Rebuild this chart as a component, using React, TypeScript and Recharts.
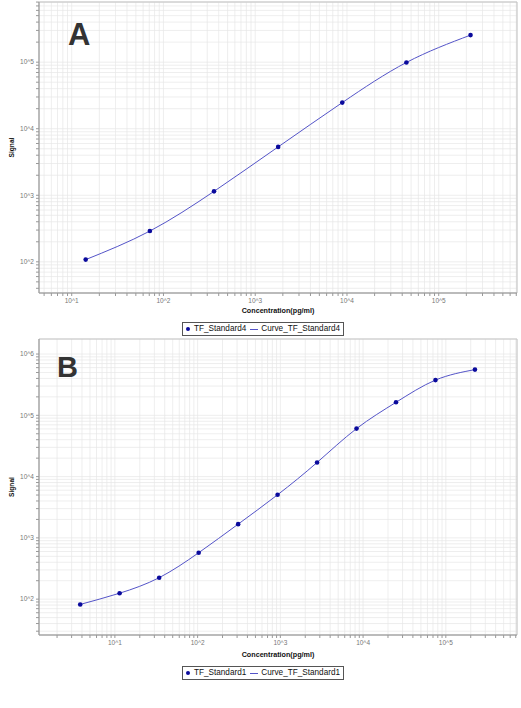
import {
  ComposedChart,
  Line,
  Scatter,
  XAxis,
  YAxis,
  CartesianGrid,
  Legend,
  ReferenceArea
} from 'recharts';

// Panel A: TF_Standard4 (5-fold dilutions)
const concA = [14.2, 71.1, 355.6, 1778, 8889, 44444, 222222];
const signalA = [108, 290, 1146, 5330, 24700, 99000, 255000];

// Panel B: TF_Standard1 (3-fold dilutions)
const concB = [3.81, 11.4, 34.3, 103, 309, 926, 2778, 8333, 25000, 75000, 225000];
const signalB = [82, 125, 224, 572, 1675, 5050, 17000, 60700, 163000, 376000, 557000];

const xMajorA = [10, 100, 1000, 10000, 100000];
const xLabelsA = ['10^1', '10^2', '10^3', '10^4', '10^5'];
const yMajorA = [100, 1000, 10000, 100000];
const yLabelsA = ['10^2', '10^3', '10^4', '10^5'];

const xMajorB = [10, 100, 1000, 10000, 100000];
const xLabelsB = ['10^1', '10^2', '10^3', '10^4', '10^5'];
const yMajorB = [100, 1000, 10000, 100000, 1000000];
const yLabelsB = ['10^2', '10^3', '10^4', '10^5', '10^6'];

const FONT = '"Liberation Sans", Arial, sans-serif';
const DOT = '#0a0a9c';
const CURVE = '#5454c8';

// all 1..9 x 10^k values inside a domain, for grid and minor tick marks
function logTicks(lo: number, hi: number) {
  const out: number[] = [];
  for (let e = -1; e <= 7; e++) {
    for (let m = 1; m <= 9; m++) {
      const v = m * Math.pow(10, e);
      if (v >= lo && v <= hi) out.push(v);
    }
  }
  return out;
}

function labeller(majors: number[], labels: string[]) {
  return (v: number) => {
    const i = majors.findIndex(m => Math.abs(m - v) / m < 1e-6);
    return i >= 0 ? labels[i] : '';
  };
}

function LegendBox({ pointName, curveName }: { pointName: string; curveName: string }) {
  return (
    <div style={{ textAlign: 'center', fontFamily: FONT }}>
      <div
        style={{
          display: 'inline-flex',
          alignItems: 'center',
          border: '1px solid #555',
          background: 'white',
          padding: '1px 3px',
          fontSize: 8.2,
          lineHeight: '10px',
          color: '#111',
          marginLeft: 5
        }}
      >
        <span
          style={{ width: 4, height: 4, borderRadius: 2, background: DOT, display: 'inline-block', marginRight: 4 }}
        />
        <span>{pointName}</span>
        <span
          style={{ width: 8, height: 1, background: CURVE, display: 'inline-block', margin: '0 3px 0 4px' }}
        />
        <span>{curveName}</span>
      </div>
    </div>
  );
}

interface PanelProps {
  conc: number[];
  signal: number[];
  xDomain: [number, number];
  yDomain: [number, number];
  xMajor: number[];
  xLabels: string[];
  yMajor: number[];
  yLabels: string[];
  height: number;
  margin: { top: number; right: number; bottom: number; left: number };
  xAxisHeight: number;
  pointName: string;
  curveName: string;
}

function Panel(p: PanelProps) {
  const data = p.conc.map((x, i) => ({ x, y: p.signal[i] }));
  const xTicks = logTicks(p.xDomain[0], p.xDomain[1]);
  const yTicks = logTicks(p.yDomain[0], p.yDomain[1]);

  return (
    <ComposedChart width={521} height={p.height} data={data} margin={p.margin}>
      <CartesianGrid stroke="#e6e6e6" strokeWidth={0.7} />
      <XAxis
        dataKey="x"
        type="number"
        scale="log"
        domain={p.xDomain}
        allowDataOverflow
        ticks={xTicks}
        interval={0}
        tickFormatter={labeller(p.xMajor, p.xLabels)}
        tick={{ fontSize: 6.5, fill: '#777', fontFamily: FONT }}
        tickSize={3}
        stroke="#999"
        height={p.xAxisHeight}
        label={{
          value: 'Concentration(pg/ml)',
          position: 'insideBottom',
          offset: 4,
          style: { fontSize: 7.2, fontWeight: 'bold', fill: '#111', fontFamily: FONT }
        }}
      />
      <YAxis
        type="number"
        scale="log"
        domain={p.yDomain}
        allowDataOverflow
        ticks={yTicks}
        interval={0}
        tickFormatter={labeller(p.yMajor, p.yLabels)}
        tick={{ fontSize: 6.5, fill: '#777', fontFamily: FONT }}
        tickSize={3}
        stroke="#999"
        width={39}
        label={{
          value: 'Signal',
          angle: -90,
          position: 'insideLeft',
          offset: 12,
          style: { fontSize: 6.6, fontWeight: 'bold', fill: '#111', fontFamily: FONT, textAnchor: 'middle' }
        }}
      />
      <ReferenceArea
        x1={p.xDomain[0]}
        x2={p.xDomain[1]}
        y1={p.yDomain[0]}
        y2={p.yDomain[1]}
        fill="none"
        stroke="#c4c4c4"
        strokeWidth={1}
      />
      <Line
        dataKey="y"
        type="natural"
        stroke={CURVE}
        strokeWidth={1}
        dot={false}
        activeDot={false}
        isAnimationActive={false}
      />
      <Scatter
        dataKey="y"
        fill={DOT}
        isAnimationActive={false}
        shape={(s: any) => <circle cx={s.cx} cy={s.cy} r={2.3} fill={DOT} />}
      />
      <Legend
        verticalAlign="bottom"
        wrapperStyle={{ left: 0, width: 521 }}
        content={() => <LegendBox pointName={p.pointName} curveName={p.curveName} />}
      />
    </ComposedChart>
  );
}

const letterStyle: React.CSSProperties = {
  position: 'absolute',
  fontFamily: FONT,
  fontWeight: 'bold',
  color: '#333',
  lineHeight: 1
};

export default function App() {
  return (
    <div style={{ position: 'absolute', left: 0, top: 0, width: 521, height: 708, background: 'white', fontFamily: FONT }}>
      <div style={{ position: 'relative', width: 521, height: 338 }}>
        <Panel
          conc={concA}
          signal={signalA}
          xDomain={[4.4, 713000]}
          yDomain={[34, 802000]}
          xMajor={xMajorA}
          xLabels={xLabelsA}
          yMajor={yMajorA}
          yLabels={yLabelsA}
          height={338}
          margin={{ top: 2, right: 4, bottom: 2, left: 0 }}
          xAxisHeight={24}
          pointName="TF_Standard4"
          curveName="Curve_TF_Standard4"
        />
        <div style={{ ...letterStyle, left: 68, top: 19, fontSize: 31 }}>A</div>
      </div>
      <div style={{ position: 'relative', width: 521, height: 370 }}>
        <Panel
          conc={concB}
          signal={signalB}
          xDomain={[1.21, 725000]}
          yDomain={[26, 1760000]}
          xMajor={xMajorB}
          xLabels={xLabelsB}
          yMajor={yMajorB}
          yLabels={yLabelsB}
          height={370}
          margin={{ top: 1, right: 4, bottom: 28, left: 0 }}
          xAxisHeight={26}
          pointName="TF_Standard1"
          curveName="Curve_TF_Standard1"
        />
        <div style={{ ...letterStyle, left: 57, top: 15, fontSize: 29 }}>B</div>
      </div>
    </div>
  );
}
